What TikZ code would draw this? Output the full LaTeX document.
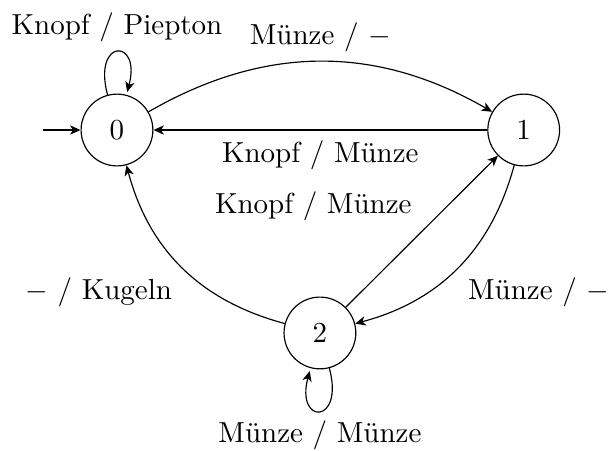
\documentclass[tikz,border=0pt]{standalone}
\usepackage{amsmath}
\usepackage{tikz}
\usetikzlibrary{automata}
\usetikzlibrary{arrows.meta}
\tikzset{>={Stealth[length=3.6pt,width=3.2pt,inset=1pt]}}

\begin{document}
\begin{tikzpicture}[auto, every state/.style={minimum size=0.87cm}]
            \useasboundingbox (-1.418,-3.879) rectangle (5.952,1.576);

            \node[state, initial, initial text=] (z0) at (0,0) {0};
            \node[state] (z1) at (4.93,0) {1};
            \node[state] (z2) at (2.46,-2.46) {2};

            \path[->] (z0) edge[loop above] node {Knopf / Piepton} (z0);
            \path[->] (z0) edge[bend left] node {Münze / $-$} (z1);
            \path[->] (z1) edge node {Knopf / Münze} (z0);
            \path[->] (z1) edge[bend left] node {Münze / $-$} (z2);
            \path[->] (z2) edge node {Knopf / Münze} (z1);
            \path[->] (z2) edge[bend left] node {$-$ / Kugeln} (z0);
            \path[->] (z2) edge[loop below] node {Münze / Münze} (z2);

        \end{tikzpicture}
\end{document}
